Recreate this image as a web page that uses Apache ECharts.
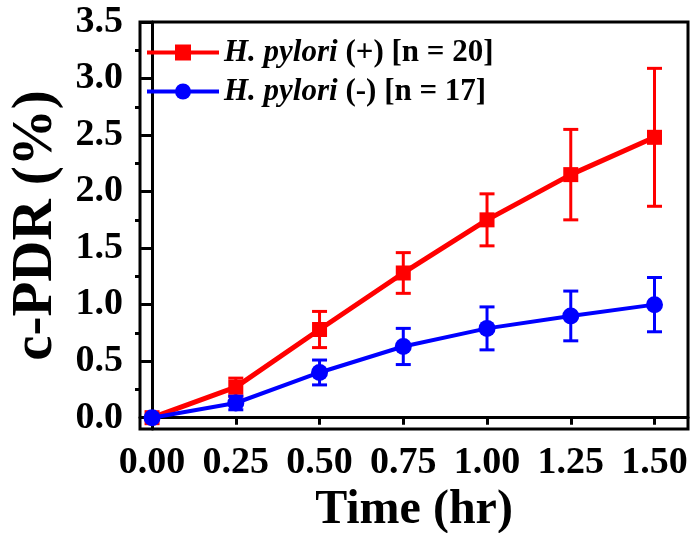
<!DOCTYPE html>
<html>
<head>
<meta charset="utf-8">
<script src="https://cdn.jsdelivr.net/npm/echarts@6/dist/echarts.min.js"></script>
<style>
  html, body { margin: 0; padding: 0; background: #fff; }
  #chart { width: 691px; height: 533px; }
</style>
</head>
<body>
<div id="chart"></div>
<script>
// Sampling times (hr)
const times = [0, 0.25, 0.5, 0.75, 1.0, 1.25, 1.5];

// c-PDR (%) mean and standard deviation for each group
const posName = 'H. pylori (+) [n = 20]';
const posMean = [0.00, 0.27, 0.78, 1.28, 1.75, 2.15, 2.48];
const posErr  = [0.00, 0.08, 0.16, 0.18, 0.23, 0.40, 0.61];

const negName = 'H. pylori (-) [n = 17]';
const negMean = [0.00, 0.13, 0.40, 0.63, 0.79, 0.90, 1.00];
const negErr  = [0.00, 0.06, 0.11, 0.16, 0.19, 0.22, 0.24];

// Axis ticks
const xTicks = [0, 0.25, 0.5, 0.75, 1.0, 1.25, 1.5];
const yTicks = [0, 0.5, 1.0, 1.5, 2.0, 2.5, 3.0, 3.5];
const yMinorTicks = [0.25, 0.75, 1.25, 1.75, 2.25, 2.75, 3.25];

const FONT = '"Liberation Serif", "Times New Roman", serif';

function pairs(xs, ys) { return xs.map((x, i) => [x, ys[i]]); }
function bars(xs, m, e) { return xs.map((x, i) => [x, m[i] - e[i], m[i] + e[i]]); }

function errorBarSeries(data, color) {
  return {
    type: 'custom',
    data: data,
    encode: { x: 0, y: [1, 2] },
    silent: true,
    renderItem: function (params, api) {
      const x = api.value(0);
      const lo = api.coord([x, api.value(1)]);
      const hi = api.coord([x, api.value(2)]);
      const hw = 7.5;
      const style = { stroke: color, lineWidth: 3 };
      return {
        type: 'group',
        children: [
          { type: 'line', shape: { x1: lo[0], y1: lo[1], x2: hi[0], y2: hi[1] }, style: style },
          { type: 'line', shape: { x1: hi[0] - hw, y1: hi[1], x2: hi[0] + hw, y2: hi[1] }, style: style },
          { type: 'line', shape: { x1: lo[0] - hw, y1: lo[1], x2: lo[0] + hw, y2: lo[1] }, style: style }
        ]
      };
    }
  };
}

const chart = echarts.init(document.getElementById('chart'), null, { renderer: 'canvas' });

chart.setOption({
  animation: false,
  backgroundColor: '#fff',
  grid: {
    left: 140, right: 3, top: 22, bottom: 104,
    outerBoundsMode: 'none',
    containLabel: false,
    show: true, borderColor: '#000', borderWidth: 3, backgroundColor: 'transparent'
  },
  legend: {
    orient: 'vertical',
    left: 145,
    top: 37,
    padding: 0,
    itemWidth: 72,
    itemHeight: 20,
    itemGap: 8,
    data: [posName, negName],
    lineStyle: { width: 4 },
    formatter: function (name) {
      return '{i|H. pylori} ' + name.replace('H. pylori ', '');
    },
    textStyle: {
      fontFamily: FONT, fontWeight: 'bold', fontSize: 31, color: '#000',
      rich: {
        i: { fontFamily: FONT, fontWeight: 'bold', fontStyle: 'italic', fontSize: 31, color: '#000' }
      }
    }
  },
  xAxis: {
    type: 'value',
    min: -0.036,
    max: 1.6,
    name: 'Time (hr)',
    nameLocation: 'middle',
    nameGap: 50,
    nameTextStyle: { fontFamily: FONT, fontWeight: 'bold', fontSize: 48, color: '#000' },
    axisLine: { show: true, lineStyle: { color: '#000', width: 3 } },
    axisTick: {
      show: true, inside: false, length: 7, customValues: xTicks,
      lineStyle: { color: '#000', width: 3 }
    },
    axisLabel: {
      customValues: xTicks, margin: 15,
      formatter: v => v.toFixed(2),
      fontFamily: FONT, fontWeight: 'bold', fontSize: 38, color: '#000'
    },
    splitLine: { show: false }
  },
  yAxis: [
    {
      type: 'value',
      min: -0.1,
      max: 3.5,
      name: 'c-PDR (%)',
      nameLocation: 'middle',
      nameGap: 72,
      nameTextStyle: { fontFamily: FONT, fontWeight: 'bold', fontSize: 57, color: '#000' },
      axisLine: { show: true, lineStyle: { color: '#000', width: 3 } },
      axisTick: {
        show: true, inside: false, length: 11, customValues: yTicks,
        lineStyle: { color: '#000', width: 3 }
      },
      axisLabel: {
        customValues: yTicks, margin: 17,
        formatter: v => v.toFixed(1),
        fontFamily: FONT, fontWeight: 'bold', fontSize: 38, color: '#000'
      },
      splitLine: { show: false }
    },
    {
      type: 'value',
      min: -0.1,
      max: 3.5,
      position: 'left',
      axisLine: { show: false },
      axisTick: {
        show: true, inside: false, length: 5, customValues: yMinorTicks,
        lineStyle: { color: '#000', width: 3 }
      },
      axisLabel: { show: false },
      splitLine: { show: false }
    }
  ],
  series: [
    {
      name: posName,
      type: 'line',
      data: pairs(times, posMean),
      symbol: 'rect',
      symbolSize: 15,
      lineStyle: { color: '#ff0000', width: 5 },
      itemStyle: { color: '#ff0000' },
      z: 2
    },
    Object.assign(errorBarSeries(bars(times, posMean, posErr), '#ff0000'), { z: 2 }),
    {
      name: negName,
      type: 'line',
      data: pairs(times, negMean),
      symbol: 'circle',
      symbolSize: 17,
      lineStyle: { color: '#0000ff', width: 4 },
      itemStyle: { color: '#0000ff' },
      z: 3
    },
    Object.assign(errorBarSeries(bars(times, negMean, negErr), '#0000ff'), { z: 3 })
  ]
});
</script>
</body>
</html>
